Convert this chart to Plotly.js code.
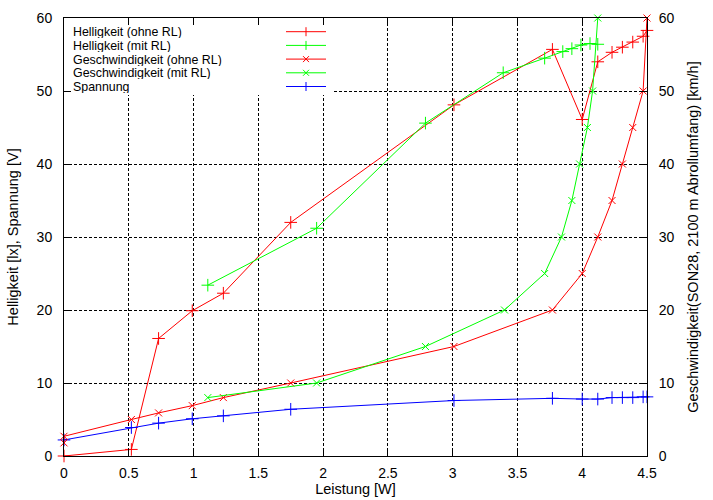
<!DOCTYPE html>
<html>
<head>
<meta charset="utf-8">
<script src="https://cdn.plot.ly/plotly-3.0.1.min.js"></script>
<style>html,body{margin:0;padding:0;background:#fff;}#chart{width:713px;height:500px;}</style>
</head>
<body>
<div id="chart"></div>
<script>
// ---- data ----
const hellOhneX = [0, 0.52, 0.73, 0.99, 1.23, 1.75, 3.01, 3.77, 4.0, 4.12, 4.23, 4.31, 4.39, 4.47, 4.5];
const hellOhneY = [0, 0.9, 16.1, 19.9, 22.3, 32.0, 48.1, 55.7, 46.1, 54.0, 55.3, 56.0, 56.7, 57.5, 58.3];

const hellMitX = [1.11, 1.95, 2.79, 3.39, 3.71, 3.85, 3.92, 3.99, 4.06, 4.12];
const hellMitY = [23.4, 31.2, 45.6, 52.5, 54.5, 55.4, 55.8, 56.3, 56.5, 56.4];

const geschOhneX = [0, 0, 0.52, 0.73, 0.99, 1.23, 1.75, 3.01, 3.77, 4.0, 4.12, 4.23, 4.31, 4.39, 4.47, 4.5];
const geschOhneY = [1.8, 2.7, 5.0, 5.9, 6.9, 8.0, 10.0, 15.0, 20.0, 25.0, 30.0, 35.0, 40.0, 45.0, 50.0, 60.0];

const geschMitX = [1.11, 1.95, 2.79, 3.40, 3.71, 3.84, 3.92, 3.98, 4.04, 4.08, 4.12];
const geschMitY = [8.0, 10.0, 15.0, 20.0, 25.0, 30.0, 35.0, 40.0, 45.0, 50.0, 60.0];

const spanX = [0, 0.52, 0.73, 0.99, 1.23, 1.75, 3.01, 3.77, 4.0, 4.12, 4.23, 4.31, 4.39, 4.47, 4.5];
const spanY = [2.2, 3.9, 4.5, 5.1, 5.5, 6.4, 7.6, 7.9, 7.8, 7.8, 8.0, 8.0, 8.0, 8.1, 8.1];

const seriesNames = ["Helligkeit (ohne RL)", "Helligkeit (mit RL)", "Geschwindigkeit (ohne RL)", "Geschwindigkeit (mit RL)", "Spannung"];
const seriesColors = ["#ff0000", "#00ff00", "#ff0000", "#00ff00", "#0000ff"];
const seriesSymbols = ["cross-thin-open", "cross-thin-open", "x-thin-open", "x-thin-open", "cross-thin-open"];

const xTitle = "Leistung [W]";
const yTitle = "Helligkeit [lx], Spannung [V]";
const y2Title = "Geschwindigkeit(SON28, 2100 m Abrollumfang) [km/h]";

// ---- chart ----
const FONT = "Liberation Sans, Arial, Helvetica, sans-serif";
const data = [
  [hellOhneX, hellOhneY, 'y'],
  [hellMitX, hellMitY, 'y'],
  [geschOhneX, geschOhneY, 'y2'],
  [geschMitX, geschMitY, 'y2'],
  [spanX, spanY, 'y']
];
const traces = data.map((d, i) => ({
  type: 'scatter', mode: 'lines+markers', name: seriesNames[i],
  x: d[0], y: d[1], yaxis: d[2], showlegend: false, cliponaxis: false,
  line: {color: seriesColors[i], width: 1},
  marker: {symbol: seriesSymbols[i], size: seriesSymbols[i].startsWith('x') ? 7 : 9,
           line: {color: seriesColors[i], width: 1}, color: seriesColors[i]}
}));

// plot area in pixels (for legend placement)
const L = 64, R = 647, T = 18, B = 456;
const px = p => (p - L) / (R - L);
const py = p => (B - p) / (B - T);

const shapes = [];
const annotations = [];
// legend background box
shapes.push({type: 'rect', xref: 'paper', yref: 'paper', layer: 'above',
  x0: px(71), x1: px(333), y0: py(95), y1: py(25), fillcolor: '#fff', line: {width: 0}});
const rows = [31.7, 45.4, 59.1, 72.8, 86.5];
seriesNames.forEach((n, i) => {
  const r = rows[i], c = seriesColors[i];
  annotations.push({xref: 'paper', yref: 'paper', x: px(72), y: py(r), xanchor: 'left', yanchor: 'middle',
    text: n, showarrow: false, height: 13, font: {family: FONT, size: 12.4, color: '#000'}, borderpad: 0});
  shapes.push({type: 'line', xref: 'paper', yref: 'paper', layer: 'above',
    x0: px(286), x1: px(326), y0: py(r), y1: py(r), line: {color: c, width: 1}});
  if (seriesSymbols[i].startsWith('cross')) {
    shapes.push({type: 'line', xref: 'paper', yref: 'paper', layer: 'above',
      x0: px(306), x1: px(306), y0: py(r - 4.5), y1: py(r + 4.5), line: {color: c, width: 1}});
  } else {
    shapes.push({type: 'line', xref: 'paper', yref: 'paper', layer: 'above',
      x0: px(303), x1: px(309), y0: py(r - 3), y1: py(r + 3), line: {color: c, width: 1}});
    shapes.push({type: 'line', xref: 'paper', yref: 'paper', layer: 'above',
      x0: px(303), x1: px(309), y0: py(r + 3), y1: py(r - 3), line: {color: c, width: 1}});
  }
});

const tickfont = {family: FONT, size: 14, color: '#000'};
const titlefont = {family: FONT, size: 14.5, color: '#000'};
const axisCommon = {
  showline: true, linecolor: '#000', linewidth: 1, ticks: 'inside', ticklen: 7,
  tickcolor: '#000', tickwidth: 1, tickfont: tickfont, zeroline: false
};

const layout = {
  width: 713, height: 500,
  margin: {l: 64, r: 66, t: 18, b: 44, pad: 0},
  paper_bgcolor: '#fff', plot_bgcolor: '#fff',
  font: {family: FONT, size: 13, color: '#000'},
  showlegend: false,
  xaxis: Object.assign({}, axisCommon, {
    range: [0, 4.5], tick0: 0, dtick: 0.5, mirror: 'ticks',
    showgrid: true, gridcolor: '#000', gridwidth: 1, griddash: '3px,2px',
    ticklabelstandoff: 4,
    title: {text: xTitle, font: titlefont, standoff: 3}
  }),
  yaxis: Object.assign({}, axisCommon, {
    range: [0, 60], tick0: 0, dtick: 10, mirror: 'ticks',
    showgrid: true, gridcolor: '#000', gridwidth: 1, griddash: '3px,2px',
    ticklabelstandoff: 8,
    title: {text: yTitle, font: titlefont, standoff: 14}
  }),
  yaxis2: Object.assign({}, axisCommon, {
    overlaying: 'y', side: 'right', range: [0, 60], tick0: 0, dtick: 10,
    showgrid: false, ticklabelstandoff: 8,
    title: {text: y2Title, font: titlefont, standoff: 14}
  }),
  shapes: shapes,
  annotations: annotations
};

Plotly.newPlot('chart', traces, layout, {staticPlot: true, displayModeBar: false});
</script>
</body>
</html>
